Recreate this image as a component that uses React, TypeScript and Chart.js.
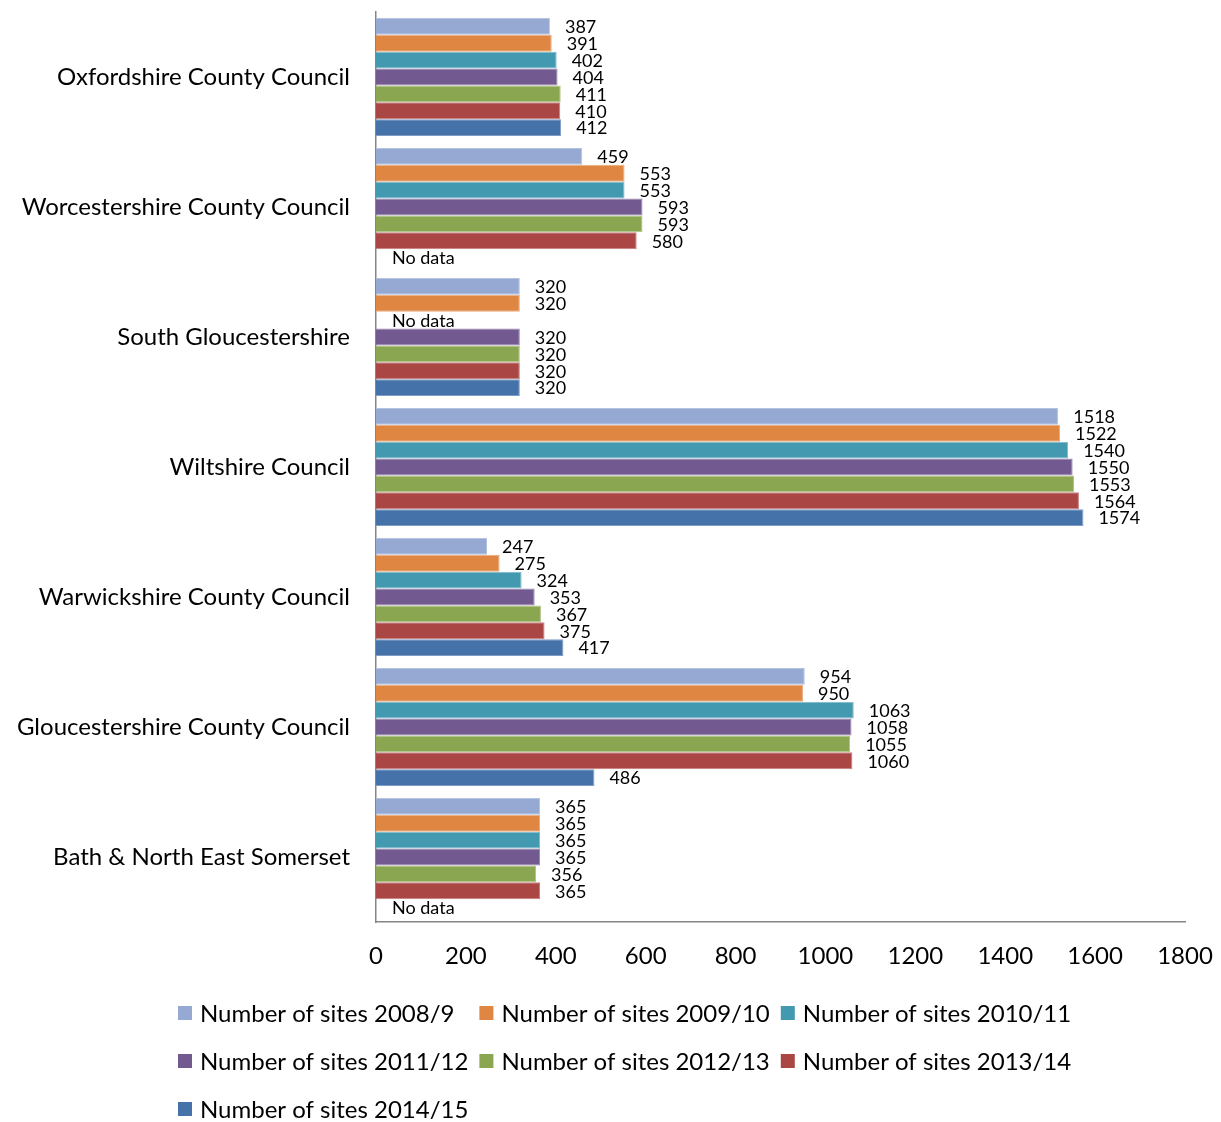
import React, { useEffect, useRef } from "react";
import { Chart, registerables } from "chart.js";

Chart.register(...registerables);

const categories = [
  "Oxfordshire County Council",
  "Worcestershire County Council",
  "South Gloucestershire",
  "Wiltshire Council",
  "Warwickshire County Council",
  "Gloucestershire County Council",
  "Bath & North East Somerset",
];

const seriesNames = [
  "Number of sites 2008/9",
  "Number of sites 2009/10",
  "Number of sites 2010/11",
  "Number of sites 2011/12",
  "Number of sites 2012/13",
  "Number of sites 2013/14",
  "Number of sites 2014/15",
];

const sites2008 = [387, 459, 320, 1518, 247, 954, 365];
const sites2009 = [391, 553, 320, 1522, 275, 950, 365];
const sites2010 = [402, 553, null, 1540, 324, 1063, 365];
const sites2011 = [404, 593, 320, 1550, 353, 1058, 365];
const sites2012 = [411, 593, 320, 1553, 367, 1055, 356];
const sites2013 = [410, 580, 320, 1564, 375, 1060, 365];
const sites2014 = [412, null, 320, 1574, 417, 486, null];

const seriesValues = [sites2008, sites2009, sites2010, sites2011, sites2012, sites2013, sites2014];

const colors = ["#95A9D3", "#DE8642", "#4299B0", "#72598F", "#8AA650", "#AA4745", "#4572A8"];
const borderColors = ["#B4C3E0", "#EBAA7C", "#7DBACB", "#9A86B0", "#AFC485", "#C57E7C", "#7D9BC4"];

const xTicks = [0, 200, 400, 600, 800, 1000, 1200, 1400, 1600, 1800];

const FONT = "Lato, Carlito, Calibri, sans-serif";

const labelPlugin = {
  id: "valueLabels",
  afterDatasetsDraw(chart: any) {
    const ctx = chart.ctx;
    const xScale = chart.scales.x;
    ctx.save();
    ctx.font = `18px ${FONT}`;
    ctx.fillStyle = "#000";
    ctx.textAlign = "left";
    ctx.textBaseline = "middle";
    chart.data.datasets.forEach((ds: any, di: number) => {
      const meta = chart.getDatasetMeta(di);
      meta.data.forEach((el: any, i: number) => {
        const v = ds.data[i];
        if (v === null || v === undefined) {
          ctx.fillText("No data", xScale.getPixelForValue(0) + 16, el.y + 1);
        } else {
          ctx.fillText(String(v), el.x + 15, el.y + 1);
        }
      });
    });
    ctx.restore();
  },
};

const legendPlugin = {
  id: "gridLegend",
  afterDraw(chart: any) {
    const ctx = chart.ctx;
    ctx.save();
    ctx.font = `24px ${FONT}`;
    ctx.textBaseline = "middle";
    ctx.textAlign = "left";
    const cols = 3;
    const startX = 178;
    const rowY = [1013, 1061, 1109];
    let maxW = 0;
    chart.data.datasets.forEach((ds: any) => {
      maxW = Math.max(maxW, ctx.measureText(ds.label).width);
    });
    const step = 22 + maxW + 11;
    chart.data.datasets.forEach((ds: any, i: number) => {
      const c = i % cols;
      const r = Math.floor(i / cols);
      const x = startX + c * step;
      const y = rowY[r];
      ctx.fillStyle = ds.backgroundColor;
      ctx.fillRect(x, y - 7, 14, 14);
      ctx.fillStyle = "#000";
      ctx.fillText(ds.label, x + 22, y + 1);
    });
    ctx.restore();
  },
};

export default function App() {
  const ref = useRef<HTMLCanvasElement | null>(null);

  useEffect(() => {
    document.body.style.margin = "0";
    if (!ref.current) return;
    const chart = new Chart(ref.current, {
      type: "bar",
      data: {
        labels: categories,
        datasets: seriesNames.map((name, i) => ({
          label: name,
          data: seriesValues[i],
          backgroundColor: colors[i],
          borderColor: borderColors[i],
          borderWidth: 1,
          categoryPercentage: 0.908,
          barPercentage: 1,
        })),
      },
      options: {
        indexAxis: "y",
        responsive: false,
        animation: false,
        layout: { padding: { top: 12, right: 36, bottom: 150, left: 0 } },
        plugins: {
          legend: { display: false },
          tooltip: { enabled: false },
        },
        scales: {
          x: {
            min: 0,
            max: 1800,
            afterBuildTicks: (s: any) => {
              s.ticks = xTicks.map((v) => ({ value: v }));
            },
            afterFit: (s: any) => {
              s.height = 50;
              s.paddingLeft = 0;
              s.paddingRight = 0;
            },
            grid: { display: false, drawTicks: false },
            border: { display: true, color: "#868686", width: 1.5 },
            ticks: {
              font: { family: FONT, size: 24 },
              color: "#000",
              padding: 20,
              maxRotation: 0,
              callback: (v: any) => String(v),
            },
          },
          y: {
            afterFit: (s: any) => {
              s.width = 376;
              s.paddingTop = 0;
              s.paddingBottom = 0;
            },
            grid: { display: false, drawTicks: false },
            border: { display: true, color: "#868686", width: 1.5 },
            ticks: {
              font: { family: FONT, size: 24 },
              color: "#000",
              padding: 26,
            },
          },
        },
      },
      plugins: [labelPlugin, legendPlugin],
    } as any);
    return () => chart.destroy();
  }, []);

  return <canvas ref={ref} width={1221} height={1122} style={{ display: "block" }} />;
}
